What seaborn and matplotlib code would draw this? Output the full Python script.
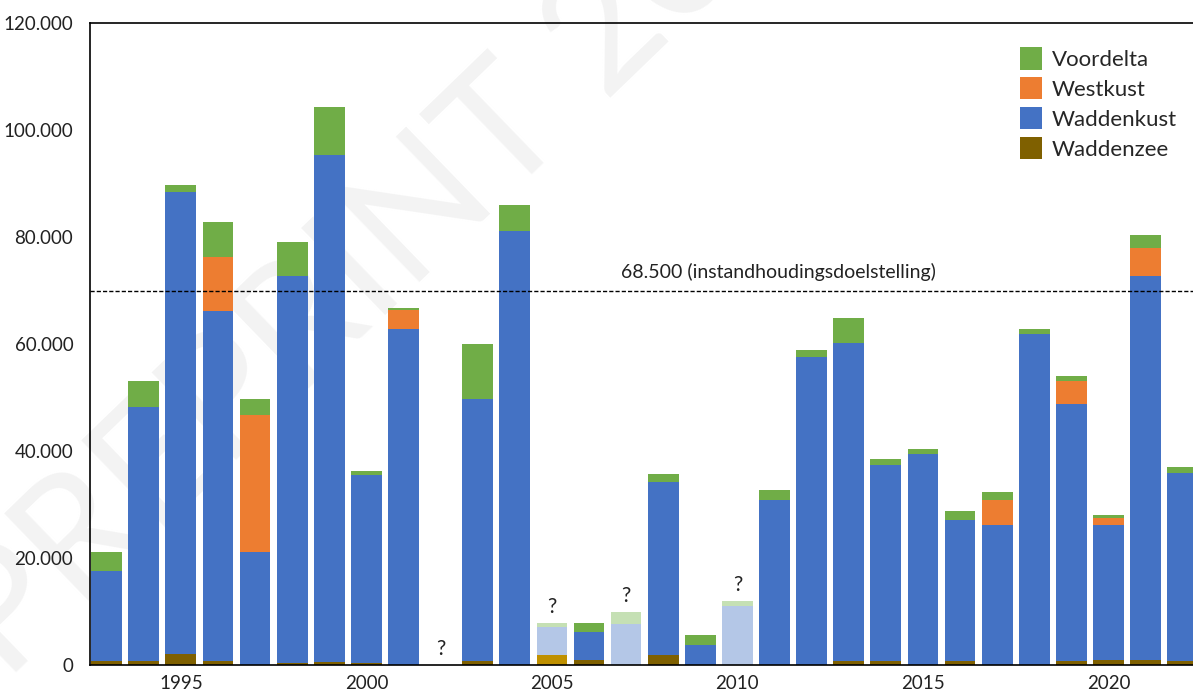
import matplotlib
matplotlib.use("Agg")
import matplotlib.pyplot as plt
from matplotlib.patches import Patch
from matplotlib.ticker import FuncFormatter
import numpy as np
import pandas as pd
import seaborn as sns


years = list(range(1993, 2023))

# aantallen in duizenden
waddenzee = [0.8, 0.8, 2.05, 0.75, 0.0, 0.37, 0.56, 0.37, 0.0, 0.0,
             0.8, 0.0, 1.9, 0.95, 0.0, 1.9, 0.0, 0.0, 0.0, 0.0,
             0.66, 0.8, 0.0, 0.66, 0.0, 0.0, 0.8, 1.0, 1.0, 0.8]
waddenkust = [16.7, 47.4, 86.2, 65.3, 21.1, 72.3, 94.6, 35.2, 62.7, 0.0,
              48.9, 81.0, 5.2, 5.3, 7.7, 32.3, 3.7, 11.0, 30.8, 57.5,
              59.4, 36.5, 39.4, 26.5, 26.2, 61.9, 47.9, 25.2, 71.7, 35.0]
westkust = [0.0, 0.0, 0.0, 10.2, 25.6, 0.0, 0.0, 0.0, 3.6, 0.0,
            0.0, 0.0, 0.0, 0.0, 0.0, 0.0, 0.0, 0.0, 0.0, 0.0,
            0.0, 0.0, 0.0, 0.0, 4.6, 0.0, 4.4, 1.3, 5.2, 0.0]
voordelta = [3.6, 4.8, 1.4, 6.4, 2.9, 6.4, 9.1, 0.7, 0.3, 0.0,
             10.2, 4.9, 0.7, 1.6, 2.2, 1.5, 1.9, 0.9, 1.9, 1.4,
             4.7, 1.1, 1.0, 1.6, 1.5, 0.9, 0.8, 0.5, 2.5, 1.2]

onzeker = [2005, 2007, 2010]
geen_telling = [2002]

doel_lijn = 69.8
doel_tekst = "68.500 (instandhoudingsdoelstelling)"

series_names = ["Voordelta", "Westkust", "Waddenkust", "Waddenzee"]
colors = {"Voordelta": "#70AD47", "Westkust": "#ED7D31",
          "Waddenkust": "#4472C4", "Waddenzee": "#7F6000"}
light_colors = {"Voordelta": "#C5E0B4", "Westkust": "#F8CBAD",
                "Waddenkust": "#B4C7E7", "Waddenzee": "#BF9000"}

wz = np.array(waddenzee) * 1000
wk = np.array(waddenkust) * 1000
west = np.array(westkust) * 1000
vd = np.array(voordelta) * 1000

cum = {
    "Waddenzee": wz,
    "Waddenkust": wz + wk,
    "Westkust": wz + wk + west,
    "Voordelta": wz + wk + west + vd,
}

sns.set_style("white")
plt.rcParams["font.family"] = ["Lato", "DejaVu Sans"]

fig = plt.figure(figsize=(11.93, 6.92), dpi=100)
fig.patch.set_facecolor("white")
ax = fig.add_axes([90 / 1193, 27 / 692, 1103 / 1193, 642.5 / 692])
ax.patch.set_alpha(0)

# watermerk achter de staven
fig.text(5 / 1193, 1 - 682 / 692, "PREPRINT 2023", fontsize=122,
         color="#F3F3F3", rotation=44, rotation_mode="anchor",
         ha="left", va="baseline", zorder=-1)

# gestapelde staven: totaal eerst, dan steeds kleinere delen eroverheen
for name in series_names:
    df = pd.DataFrame({
        "jaar": years,
        "aantal": cum[name],
        "kleur": [str(y) for y in years],
    })
    pal = {str(y): (light_colors[name] if y in onzeker else colors[name])
           for y in years}
    sns.barplot(data=df, x="jaar", y="aantal", hue="kleur", palette=pal,
                native_scale=True, width=0.83, legend=False, errorbar=None,
                saturation=1, linewidth=0, ax=ax)

ax.axhline(doel_lijn * 1000, color="black", linestyle=(0, (3, 1.5)),
           linewidth=1, zorder=3)
ax.text(2011.1, 73.4 * 1000, doel_tekst, ha="center", va="center",
        fontsize=14, color="#222222")

for y in onzeker:
    i = years.index(y)
    ax.text(y, cum["Voordelta"][i] + 1200, "?", ha="center", va="bottom",
            fontsize=15, color="#222222")
for y in geen_telling:
    ax.text(y, 1200, "?", ha="center", va="bottom",
            fontsize=15, color="#222222")

ax.set_xlim(1992.55, 2022.28)
ax.set_ylim(0, 120000)
ax.set_xticks([1995, 2000, 2005, 2010, 2015, 2020])
ax.set_yticks(np.arange(0, 120001, 20000))
ax.yaxis.set_major_formatter(
    FuncFormatter(lambda v, p: f"{int(v):,}".replace(",", ".")))
ax.tick_params(length=0, labelsize=13.5, colors="#222222")
ax.tick_params(axis="y", pad=12)
ax.tick_params(axis="x", pad=7)
ax.set_xlabel("")
ax.set_ylabel("")

for side in ["left", "top", "bottom"]:
    ax.spines[side].set_color("black")
    ax.spines[side].set_linewidth(1.2)
ax.spines["right"].set_visible(False)

handles = [Patch(facecolor=colors[n], edgecolor="none", label=n)
           for n in series_names]
ax.legend(handles=handles, loc="upper left", bbox_to_anchor=(0.835, 0.975),
          frameon=False, fontsize=16, handlelength=1.0, handleheight=1.15,
          handletextpad=0.45, labelspacing=0.33, borderaxespad=0)

plt.savefig("out.png", dpi=100, facecolor="white")
